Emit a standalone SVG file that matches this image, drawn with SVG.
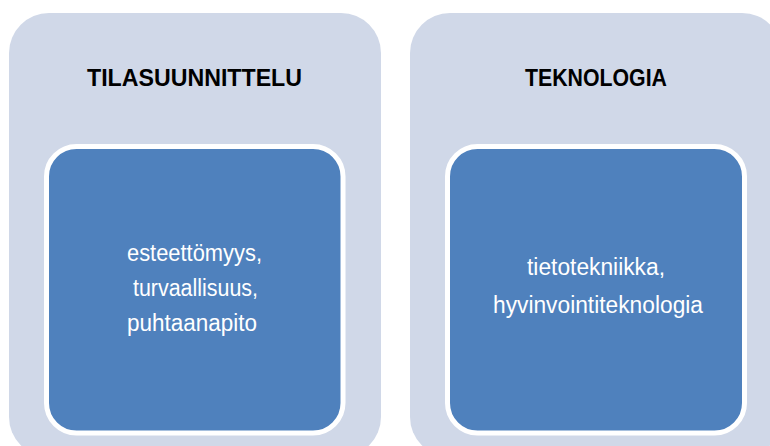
<svg xmlns="http://www.w3.org/2000/svg" width="770" height="446" viewBox="0 0 770 446">
<style>
.outer{fill:#D0D8E8;}
.inner{fill:#4F81BD;stroke:#FFFFFF;stroke-width:5;}
.title{font-family:"Liberation Sans",Arial,sans-serif;font-weight:bold;font-size:23px;fill:#000000;}
.body{font-family:"Liberation Sans",Arial,sans-serif;font-size:23px;fill:#FFFFFF;}
</style>
<rect width="770" height="446" fill="#FFFFFF"/>
<g id="node-tilasuunnittelu">
<rect class="outer" x="9" y="13" width="372" height="444" rx="40" ry="40"/>
<text class="title" x="87" y="86" textLength="215" lengthAdjust="spacingAndGlyphs">TILASUUNNITTELU</text>
<g id="node-tilasuunnittelu-content">
<rect class="inner" x="46.5" y="146.5" width="296.5" height="286.5" rx="30" ry="30"/>
<text class="body" x="127" y="261" textLength="135" lengthAdjust="spacingAndGlyphs">esteettömyys,</text>
<text class="body" x="133" y="296" textLength="125" lengthAdjust="spacingAndGlyphs">turvaallisuus,</text>
<text class="body" x="127" y="331" textLength="130" lengthAdjust="spacingAndGlyphs">puhtaanapito</text>
</g>
</g>
<g id="node-teknologia">
<rect class="outer" x="410" y="13" width="372" height="444" rx="40" ry="40"/>
<text class="title" x="525" y="86" textLength="142" lengthAdjust="spacingAndGlyphs">TEKNOLOGIA</text>
<g id="node-teknologia-content">
<rect class="inner" x="447.5" y="146.5" width="297" height="286.5" rx="30" ry="30"/>
<text class="body" x="527" y="275" textLength="138" lengthAdjust="spacingAndGlyphs">tietotekniikka,</text>
<text class="body" x="493" y="313" textLength="210" lengthAdjust="spacingAndGlyphs">hyvinvointiteknologia</text>
</g>
</g>
<g id="connectors"></g>
</svg>
